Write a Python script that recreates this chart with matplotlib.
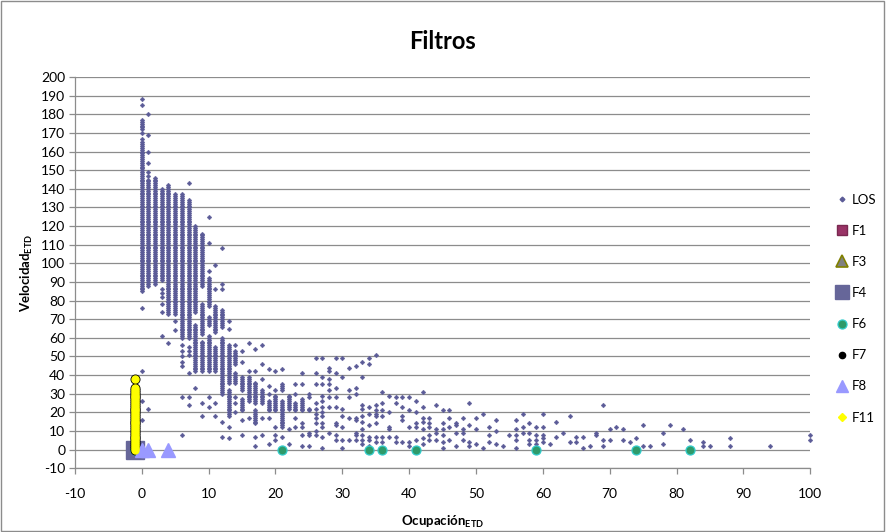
import matplotlib
matplotlib.use("Agg")
import matplotlib.pyplot as plt
from matplotlib.lines import Line2D
from matplotlib.patches import Rectangle

plt.rcParams['font.family'] = ['Lato', 'DejaVu Sans']
plt.rcParams['mathtext.fontset'] = 'custom'
plt.rcParams['mathtext.rm'] = 'Lato'
plt.rcParams['mathtext.bf'] = 'Lato:bold'
plt.rcParams['axes.unicode_minus'] = False

# ---- LOS observations (occupancy, speed) ----
# runs of consecutive integer speeds observed at one occupancy value: (x, y_low, y_high)
los_runs = [
    (0, 85, 165), (1, 88, 145), (2, 89, 146), (3, 91, 140), (4, 73, 142),
    (5, 73, 137), (6, 60, 137), (7, 60, 134), (8, 74, 120), (8, 42, 67),
    (9, 88, 116), (9, 62, 78), (9, 42, 58), (10, 77, 92), (10, 67, 71),
    (10, 42, 61), (11, 63, 77), (11, 42, 55), (12, 66, 75), (12, 30, 60),
    (13, 36, 56), (13, 18, 32), (14, 46, 53), (14, 36, 41), (15, 32, 39),
    (15, 21, 27), (16, 26, 39), (17, 25, 36), (17, 14, 21), (18, 25, 32),
    (19, 21, 26), (20, 21, 29), (21, 32, 35), (21, 12, 26), (22, 22, 29),
    (23, 21, 25), (24, 21, 27),
]
# isolated observations: (x, [speeds])
los_points = [
    (0, [188, 185, 177, 176, 175, 174, 173, 172, 170, 167, 76, 42, 26, 16]),
    (1, [180, 169, 160, 154, 149, 147, 22]),
    (3, [86, 84, 82, 78, 74, 61]),
    (4, [57]),
    (5, [69, 64]),
    (6, [56, 53, 50, 47, 45, 28, 8]),
    (7, [143, 55, 53, 51, 41, 28, 24]),
    (8, [33]),
    (9, [25, 18]),
    (10, [125, 111, 96, 28, 23]),
    (11, [99, 86, 25, 18]),
    (12, [108, 89, 86, 15, 7]),
    (13, [69, 65, 12, 6]),
    (14, [56, 28, 25, 20]),
    (15, [53, 47, 16, 8]),
    (16, [57, 42, 17]),
    (17, [54, 42, 7, 2]),
    (18, [56, 46, 38, 17, 8]),
    (19, [43, 34, 30, 17, 3]),
    (20, [42, 32, 12, 8, 5]),
    (21, [43, 7]),
    (22, [11, 3]),
    (23, [35, 30, 17, 12]),
    (24, [41, 35, 14, 12, 8, 2]),
    (25, [30, 28, 22, 21, 9, 8, 2]),
    (26, [49, 41, 35, 25, 22, 19, 17, 14, 10, 8]),
    (27, [49, 39, 35, 29, 26, 23, 20, 18, 14, 12, 7, 1]),
    (28, [44, 42, 38, 35, 32, 28, 23, 9]),
    (29, [49, 41, 33, 28, 23, 14, 13, 8, 5]),
    (30, [49, 39, 22, 18, 12, 5, 1]),
    (31, [44, 32, 28, 17, 5]),
    (32, [45, 33, 30, 17, 16, 9, 8, 5]),
    (33, [47, 39, 24, 22, 18, 15, 11, 8, 5, 3]),
    (34, [49, 46, 23, 19, 13, 7, 5, 2]),
    (35, [51, 24, 21, 19, 18, 14, 7, 4]),
    (36, [31, 25, 21, 18, 7, 4]),
    (37, [29, 20, 12, 11, 7]),
    (38, [28, 25, 7, 4]),
    (39, [28, 23, 18, 16, 4]),
    (40, [28, 21, 12, 4, 2]),
    (41, [26, 20, 14, 12, 5]),
    (42, [31, 23, 17, 15, 11, 6, 3]),
    (43, [17, 14, 12, 8, 5]),
    (44, [24, 11, 9, 5]),
    (45, [21, 14, 11, 8, 4, 1]),
    (46, [21, 17, 12, 5]),
    (47, [14, 13, 9, 2]),
    (48, [17, 11, 9, 5]),
    (49, [25, 13, 4, 2]),
    (50, [17, 11, 3]),
    (51, [19, 1]),
    (52, [12, 8, 4]),
    (53, [16, 10, 3]),
    (54, [2]),
    (55, [8]),
    (56, [16, 11, 8, 5, 1]),
    (57, [19, 12, 9]),
    (58, [14, 9, 5, 3]),
    (59, [12, 8, 5, 3]),
    (60, [19, 12, 8, 6, 4]),
    (61, [3]),
    (62, [15, 7]),
    (63, [9]),
    (64, [18, 4]),
    (65, [7, 4]),
    (66, [7, 1]),
    (67, [2]),
    (68, [9, 8]),
    (69, [24, 5, 2]),
    (70, [11, 5]),
    (71, [12]),
    (72, [11, 5]),
    (73, [4]),
    (74, [6]),
    (75, [13, 2]),
    (76, [2]),
    (78, [9, 3]),
    (79, [13]),
    (81, [11]),
    (82, [5]),
    (84, [4, 2]),
    (85, [2]),
    (88, [6, 2]),
    (94, [2]),
    (100, [8, 5]),
]

# ---- filtered series ----
f1_x, f1_y = [-1], [0]
f3_x, f3_y = [-1], [0]
f4_x, f4_y = [-1], [0]
f6_x = [-1, 21, 34, 36, 41, 59, 74, 82]
f6_y = [0, 0, 0, 0, 0, 0, 0, 0]
f7_x = [-1] * 35
f7_y = [38] + list(range(33, -1, -1))
f8_x = [0, 1, 4]
f8_y = [0, 0, 0]
f11_x = [-1] * 35
f11_y = [38] + list(range(33, -1, -1))

x_ticks = list(range(-10, 101, 10))
y_ticks = list(range(-10, 201, 10))

# expand LOS runs and points into coordinate lists
los_x, los_y = [], []
for x, lo, hi in los_runs:
    for y in range(lo, hi + 1):
        los_x.append(x)
        los_y.append(y)
for x, ys in los_points:
    for y in ys:
        los_x.append(x)
        los_y.append(y)

fig = plt.figure(figsize=(8.86, 5.32), dpi=100)
ax = fig.add_axes([0.0845, 0.120, 0.830, 0.735])

grid_col = '#8c8c8c'
ax.set_xlim(-10, 100)
ax.set_ylim(-10, 200)
ax.set_xticks(x_ticks)
ax.set_yticks(y_ticks)
ax.yaxis.grid(True, color=grid_col, linewidth=0.9)
ax.set_axisbelow(True)
for s in ('top', 'right'):
    ax.spines[s].set_visible(False)
for s in ('left', 'bottom'):
    ax.spines[s].set_color(grid_col)
    ax.spines[s].set_linewidth(0.9)
ax.tick_params(axis='both', direction='out', length=4, width=0.9,
               color=grid_col, labelsize=10, labelcolor='#000000')
ax.tick_params(axis='x', pad=10)
ax.tick_params(axis='y', pad=3)

los_col = '#5B5B97'
ax.plot(los_x, los_y, linestyle='none', marker='D', ms=2.4,
        mfc=los_col, mec=los_col, mew=0.3, zorder=3, clip_on=False)
ax.plot(f1_x, f1_y, linestyle='none', marker='s', ms=6, mfc='#993366',
        mec='#7a2850', zorder=4)
ax.plot(f3_x, f3_y, linestyle='none', marker='^', ms=7, mfc='#808080',
        mec='#808000', zorder=4)
ax.plot(f4_x, f4_y, linestyle='none', marker='s', ms=13.5, mfc='#666699',
        mec='#666699', zorder=5)
ax.plot(f6_x, f6_y, linestyle='none', marker='o', ms=6.5, mfc='#2E9A6A',
        mec='#33CCCC', mew=0.9, zorder=6)
ax.plot(f7_x, f7_y, linestyle='none', marker='o', ms=6.2, mfc='#000000',
        mec='#000000', zorder=7)
ax.plot(f8_x, f8_y, linestyle='none', marker='^', ms=9.5, mfc='#9999FF',
        mec='#9999FF', zorder=7)
ax.plot(f11_x, f11_y, linestyle='none', marker='o', ms=5.0, mfc='#FFFF00',
        mec='#FFFF00', zorder=8)

ax.set_title('Filtros', fontsize=17, fontweight='bold', pad=20)
ax.set_xlabel(r'Ocupación$_{\mathbf{ETD}}$', fontsize=9.5, fontweight='bold',
              labelpad=10)
ax.set_ylabel(r'Velocidad$_{\mathbf{ETD}}$', fontsize=9.5, fontweight='bold',
              labelpad=4)

handles = [
    Line2D([], [], linestyle='none', marker='D', ms=2.4, mfc=los_col, mec=los_col),
    Line2D([], [], linestyle='none', marker='s', ms=7, mfc='#993366', mec='#7a2850'),
    Line2D([], [], linestyle='none', marker='^', ms=8, mfc='#808080', mec='#808000', mew=1.2),
    Line2D([], [], linestyle='none', marker='s', ms=10, mfc='#666699', mec='#666699'),
    Line2D([], [], linestyle='none', marker='o', ms=6.5, mfc='#2E9A6A', mec='#33CCCC', mew=0.9),
    Line2D([], [], linestyle='none', marker='o', ms=4.5, mfc='#000000', mec='#000000'),
    Line2D([], [], linestyle='none', marker='^', ms=9, mfc='#9999FF', mec='#9999FF'),
    Line2D([], [], linestyle='none', marker='D', ms=4, mfc='#FFFF00', mec='#FFFF00'),
]
labels = ['LOS', 'F1', 'F3', 'F4', 'F6', 'F7', 'F8', 'F11']
fig.legend(handles, labels, loc='center left', bbox_to_anchor=(0.938, 0.42),
           frameon=False, fontsize=9.5, labelspacing=1.45, handlelength=0.9,
           handletextpad=0.3, borderaxespad=0)

fig.patches.append(Rectangle((0.001, 0.001), 0.997, 0.997, transform=fig.transFigure,
                             fill=False, edgecolor='#8c8c8c', linewidth=1.0))

fig.savefig('out.png', dpi=100)
